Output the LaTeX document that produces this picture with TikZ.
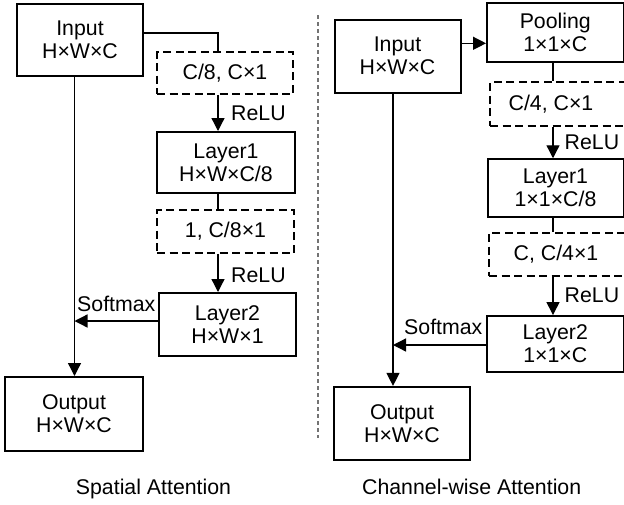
\documentclass[tikz,border=0pt]{standalone}
\usepackage{fontspec}
\setmainfont{Liberation Sans}
\usetikzlibrary{arrows.meta}
\begin{document}
\begin{tikzpicture}[x=1pt,y=-1pt,
  txt/.style={font=\fontsize{21.3}{23}\selectfont, inner sep=0pt},
  box/.style={txt, draw, line width=2pt, align=center},
  dbox/.style={draw, line width=1.8pt, dash pattern=on 8pt off 4.5pt},
  link/.style={line width=1.3pt},
  arr/.style={link, -{Triangle[length=13pt,width=13pt]}},
  sep/.style={draw=black!55, line width=1.8pt, dash pattern=on 4pt off 3pt}]
\clip (0,0) rectangle (624,504);
\fill[white] (0,0) rectangle (624,504);

% ---------------- spatial attention ----------------
\node[box, minimum width=126, minimum height=72] (sin) at (80,40) {Input\\H×W×C};
\node[dbox, minimum width=136, minimum height=42] (sd1) at (225,73) {};
\node[txt] at (sd1) {C/8, C×1};
\node[box, minimum width=138, minimum height=61] (sl1) at (226,162.5) {Layer1\\H×W×C/8};
\node[dbox, minimum width=137, minimum height=43] (sd2) at (225.5,231.5) {};
\node[txt] at (sd2) {1, C/8×1};
\node[box, minimum width=137, minimum height=63] (sl2) at (227.5,324.5) {Layer2\\H×W×1};
\node[box, minimum width=138, minimum height=74] (sout) at (74,414) {Output\\H×W×C};

\coordinate (sx) at (218,0);
\coordinate (sv) at (74.5,0);
\draw[link] (sin.east |- 0,33) -| (sd1.north -| sx);
\draw[arr] (sd1.south -| sx) -- (sl1.north -| sx);
\draw[link] (sl1.south -| sx) -- (sd2.north -| sx);
\draw[arr] (sd2.south -| sx) -- (sl2.north -| sx);
\draw[arr] (sin.south -| sv) -- (sout.north -| sv);
\draw[arr] (sl2.west |- 0,321) -- (sv |- 0,321);

\node[txt, anchor=base west] at (231,120.5) {ReLU};
\node[txt, anchor=base west] at (231,282.5) {ReLU};
\node[txt, anchor=base west] at (77,311) {Softmax};
\node[txt, anchor=base] (st) at (153.5,494) {Spatial Attention};

% separator between the two schemes
\draw[sep] (318,15) -- (318,438);

% ---------------- channel-wise attention ----------------
\node[box, minimum width=126, minimum height=73] (cin) at (397.5,56) {Input\\H×W×C};
\node[box, minimum width=136.5, minimum height=59] (cpo) at (555.3,32.2) {Pooling\\1×1×C};
\node[dbox, minimum width=140, minimum height=44] (cd1) at (560,104.2) {};
\node[txt] at (551,104.2) {C/4, C×1};
\node[box, minimum width=136, minimum height=57.5] (cl1) at (555.5,188) {Layer1\\1×1×C/8};
\node[dbox, minimum width=140, minimum height=43.5] (cd2) at (559,254.4) {};
\node[txt] at (556,254.4) {C, C/4×1};
\node[box, minimum width=136.5, minimum height=55.5] (cl2) at (555.3,343.8) {Layer2\\1×1×C};
\node[box, minimum width=136, minimum height=73] (cout) at (402,423.4) {Output\\H×W×C};

\coordinate (cx) at (553,0);
\coordinate (cv) at (393,0);
\draw[arr] (cin.east |- 0,43.3) -- (cpo.west |- 0,43.3);
\draw[link] (cpo.south -| cx) -- (cd1.north -| cx);
\draw[arr] (cd1.south -| cx) -- (cl1.north -| cx);
\draw[link] (cl1.south -| cx) -- (cd2.north -| cx);
\draw[arr] (cd2.south -| cx) -- (cl2.north -| cx);
\draw[arr] (cin.south -| cv) -- (cout.north -| cv);
\draw[arr] (cl2.west |- 0,345) -- (cv |- 0,345);

\node[txt, anchor=base west] at (564.5,149) {ReLU};
\node[txt, anchor=base west] at (564.5,302.7) {ReLU};
\node[txt, anchor=base west] at (404,334) {Softmax};
\node[txt, anchor=base] (ct) at (471.7,494) {Channel-wise Attention};
\end{tikzpicture}
\end{document}
